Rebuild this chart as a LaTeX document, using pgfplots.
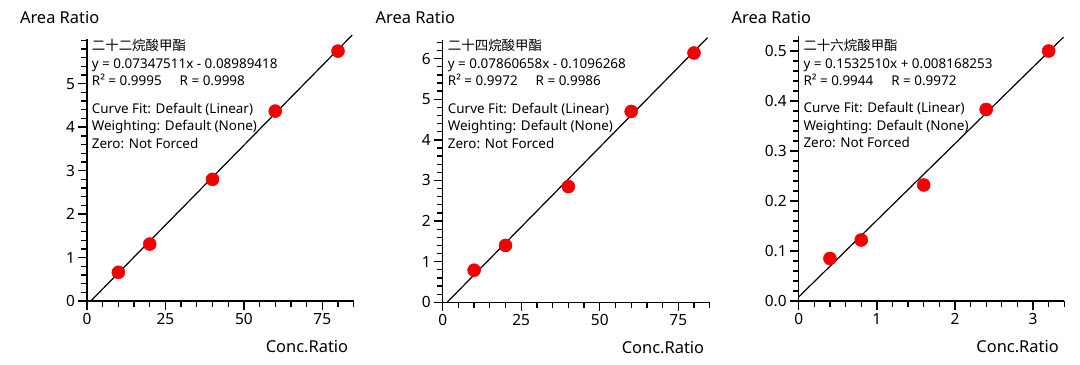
\documentclass[border=0pt]{standalone}
\usepackage{fontspec}
\setmainfont{Noto Sans}
\newfontfamily\cjk{Noto Sans CJK SC}
\usepackage{pgfplots}
\pgfplotsset{compat=1.18}
\definecolor{ptred}{RGB}{240,0,0}
\pgfplotsset{
 panel/.style={
  scale only axis,
  axis x line=bottom, axis y line=left,
  axis line style={line width=1.4bp, -},
  tick align=outside,
  major tick length=8.5bp, minor tick length=5.5bp,
  every tick/.style={black, line width=1.4bp},
  major tick style={black, line width=1.4bp},
  minor tick style={black, line width=1.3bp},
  tick label style={font=\fontsize{15.5}{18}\selectfont},
  /pgf/number format/assume math mode=true,
  xmin=0, ymin=0,
  clip=false,
  xlabel={Conc.Ratio},
  ylabel={Area Ratio},
  xlabel style={at={(rel axis cs:1,0)}, anchor=base east, yshift=-51.5bp, xshift=-2bp, font=\fontsize{16.5}{19}\selectfont},
  ylabel style={rotate=-90, at={(rel axis cs:0,1)}, anchor=base west, xshift=-70.5bp, font=\fontsize{16.5}{19}\selectfont},
 },
 pts/.style={only marks, mark=*, mark size=6.5bp, color=ptred, line width=0.5bp, mark options={solid, fill=ptred, draw=ptred}},
 fit/.style={black, line width=1.2bp, no marks},
}
\tikzset{note/.style={anchor=north west, align=left, inner sep=0pt, font=\fontsize{13.5}{17.5}\selectfont}}
\begin{document}
\begin{tikzpicture}
\path[use as bounding box] (0,0) rectangle (1080bp,365bp);
% Panel 1
\begin{axis}[panel, at={(87bp,64bp)}, anchor=south west,
  width=266.7bp, height=261.6bp,
  ylabel style={yshift=16.3bp},
  xmax=85, ymax=6.02,
  xtick={0,25,50,75}, minor xtick={0,5,...,85},
  ytick={0,1,2,3,4,5}, minor ytick={0,0.2,...,6.01}]
\addplot[pts] coordinates {(10,0.66) (20,1.31) (40,2.80) (60,4.37) (80,5.75)};
\addplot[fit] coordinates {(1.2235,0) (84.5,6.119)};
\node[note] at (rel axis cs:0,1) [xshift=4.7bp, yshift=0bp] {{\cjk 二十二烷酸甲酯}\\
y = 0.07347511x - 0.08989418\\
R² = 0.9995\hspace{18bp}R = 0.9998\\[10bp]
Curve Fit: Default (Linear)\\
Weighting: Default (None)\\
Zero: Not Forced};
\end{axis}
% Panel 2
\begin{axis}[panel, at={(442.7bp,62.7bp)}, anchor=south west,
  width=267bp, height=261.9bp,
  ylabel style={yshift=17.3bp},
  xmax=85, ymax=6.45,
  xtick={0,25,50,75}, minor xtick={0,5,...,85},
  ytick={0,1,2,3,4,5,6}, minor ytick={0,0.2,...,6.41}]
\addplot[pts] coordinates {(10,0.79) (20,1.40) (40,2.85) (60,4.70) (80,6.14)};
\addplot[fit] coordinates {(1.3946,0) (84.3,6.5168)};
\node[note] at (rel axis cs:0,1) [xshift=5bp, yshift=1bp] {{\cjk 二十四烷酸甲酯}\\
y = 0.07860658x - 0.1096268\\
R² = 0.9972\hspace{18bp}R = 0.9986\\[10bp]
Curve Fit: Default (Linear)\\
Weighting: Default (None)\\
Zero: Not Forced};
\end{axis}
% Panel 3
\begin{axis}[panel, at={(798.7bp,64bp)}, anchor=south west,
  width=265.6bp, height=265bp,
  ylabel style={yshift=12.9bp},
  xmax=3.4, ymax=0.53,
  xtick={0,1,2,3}, minor xtick={0,0.2,...,3.41},
  ytick={0,0.1,0.2,0.3,0.4,0.5}, minor ytick={0,0.02,...,0.521},
  yticklabel style={/pgf/number format/.cd, fixed, fixed zerofill, precision=1}]
\addplot[pts] coordinates {(0.4,0.085) (0.8,0.122) (1.6,0.232) (2.4,0.383) (3.2,0.500)};
\addplot[fit] coordinates {(0,0.008168) (3.39,0.5277)};
\node[note] at (rel axis cs:0,1) [xshift=4.6bp, yshift=-3bp] {{\cjk 二十六烷酸甲酯}\\
y = 0.1532510x + 0.008168253\\
R² = 0.9944\hspace{18bp}R = 0.9972\\[10bp]
Curve Fit: Default (Linear)\\
Weighting: Default (None)\\
Zero: Not Forced};
\end{axis}
\end{tikzpicture}
\end{document}
